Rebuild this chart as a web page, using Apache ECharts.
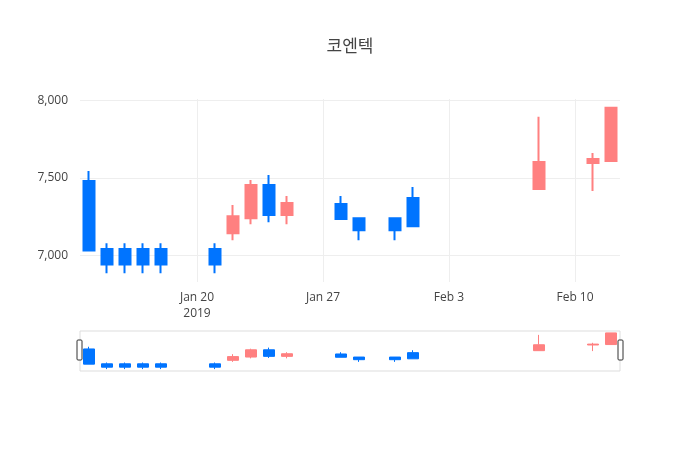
<!DOCTYPE html>
<html>
<head>
<meta charset="utf-8">
<script src="https://cdn.jsdelivr.net/npm/echarts@6/dist/echarts.min.js"></script>
<style>html,body{margin:0;padding:0;background:#fff}#main{width:700px;height:450px}</style>
</head>
<body>
<div id="main"></div>
<script>
var dates = ['2019-01-14','2019-01-15','2019-01-16','2019-01-17','2019-01-18','2019-01-21','2019-01-22','2019-01-23','2019-01-24','2019-01-25','2019-01-28','2019-01-29','2019-01-31','2019-02-01','2019-02-08','2019-02-11','2019-02-12'];
var opens  = [7480,7040,7040,7040,7040,7040,7143,7240,7455,7260,7331,7240,7240,7370,7429,7597,7610];
var closes = [7030,6940,6940,6940,6940,6940,7253,7455,7260,7338,7234,7162,7162,7188,7604,7623,7955];
var lows   = [7030,6883,6883,6883,6883,6883,7097,7201,7214,7201,7234,7097,7097,7188,7429,7416,7604];
var highs  = [7545,7078,7078,7078,7078,7078,7325,7487,7519,7383,7383,7240,7240,7442,7896,7662,7955];
var tickDays = ['2019-01-20','2019-01-27','2019-02-03','2019-02-10'];
var tickLabels = ['Jan 20\n2019', 'Jan 27', 'Feb 3', 'Feb 10'];

// day number since 2019-01-01
var day = function (s) { return (Date.parse(s + 'T00:00:00Z') - Date.parse('2019-01-01T00:00:00Z')) / 864e5; };
var data = dates.map(function (d, i) { return [day(d), opens[i], closes[i], lows[i], highs[i]]; });
var ticks = tickDays.map(day);
var xMin = day('2019-01-14') - 0.5, xMax = day('2019-02-12') + 0.5;
var up = '#ff8080', down = '#0074ff';
var font = '"Open Sans", "Noto Sans", sans-serif';

var myChart = echarts.init(document.getElementById('main'));
var option = {
  animation: false,
  title: { text: '코엔텍', left: 'center', top: 32, textStyle: { fontFamily: '"Noto Sans CJK KR", sans-serif', fontSize: 17, fontWeight: 'normal', color: '#444' } },
  grid: [
    { left: 80, right: 80, top: 99, height: 183 },
    { left: 80, right: 80, top: 331, height: 40, show: true, borderColor: '#ddd', borderWidth: 1 }
  ],
  xAxis: [{
    type: 'value', gridIndex: 0, min: xMin, max: xMax,
    axisLine: { show: false }, axisTick: { show: false, customValues: ticks },
    splitLine: { show: true, lineStyle: { color: '#eee' } },
    axisLabel: {
      customValues: ticks, color: '#444', fontFamily: font, fontSize: 12, margin: 8, lineHeight: 16,
      formatter: function (v) { return tickLabels[ticks.indexOf(v)]; }
    }
  }, {
    type: 'value', gridIndex: 1, min: xMin, max: xMax, show: false
  }],
  yAxis: [{
    gridIndex: 0, min: 6827, max: 8011,
    axisLine: { show: false }, axisTick: { show: false, customValues: [7000, 7500, 8000] },
    splitLine: { lineStyle: { color: '#eee' } },
    axisLabel: { color: '#444', fontFamily: font, fontSize: 12, margin: 12,
      customValues: [7000, 7500, 8000] }
  }, {
    gridIndex: 1, min: 6827, max: 8011, show: false, splitLine: { show: false }
  }],
  series: [{
    type: 'candlestick', xAxisIndex: 0, yAxisIndex: 0, data: data, barWidth: 12,
    encode: { x: 0, y: [1, 2, 3, 4] },
    itemStyle: { color: up, color0: down, borderColor: up, borderColor0: down, borderWidth: 2 }
  }, {
    type: 'candlestick', xAxisIndex: 1, yAxisIndex: 1, data: data, barWidth: 12,
    encode: { x: 0, y: [1, 2, 3, 4] },
    itemStyle: { color: up, color0: down, borderColor: up, borderColor0: down, borderWidth: 1 }
  }],
  graphic: [
    { type: 'rect', shape: { x: 77, y: 340, width: 5, height: 20, r: 1 }, style: { fill: '#fff', stroke: '#333', lineWidth: 1 } },
    { type: 'rect', shape: { x: 618, y: 340, width: 5, height: 20, r: 1 }, style: { fill: '#fff', stroke: '#333', lineWidth: 1 } }
  ]
};
myChart.setOption(option);
</script>
</body>
</html>
